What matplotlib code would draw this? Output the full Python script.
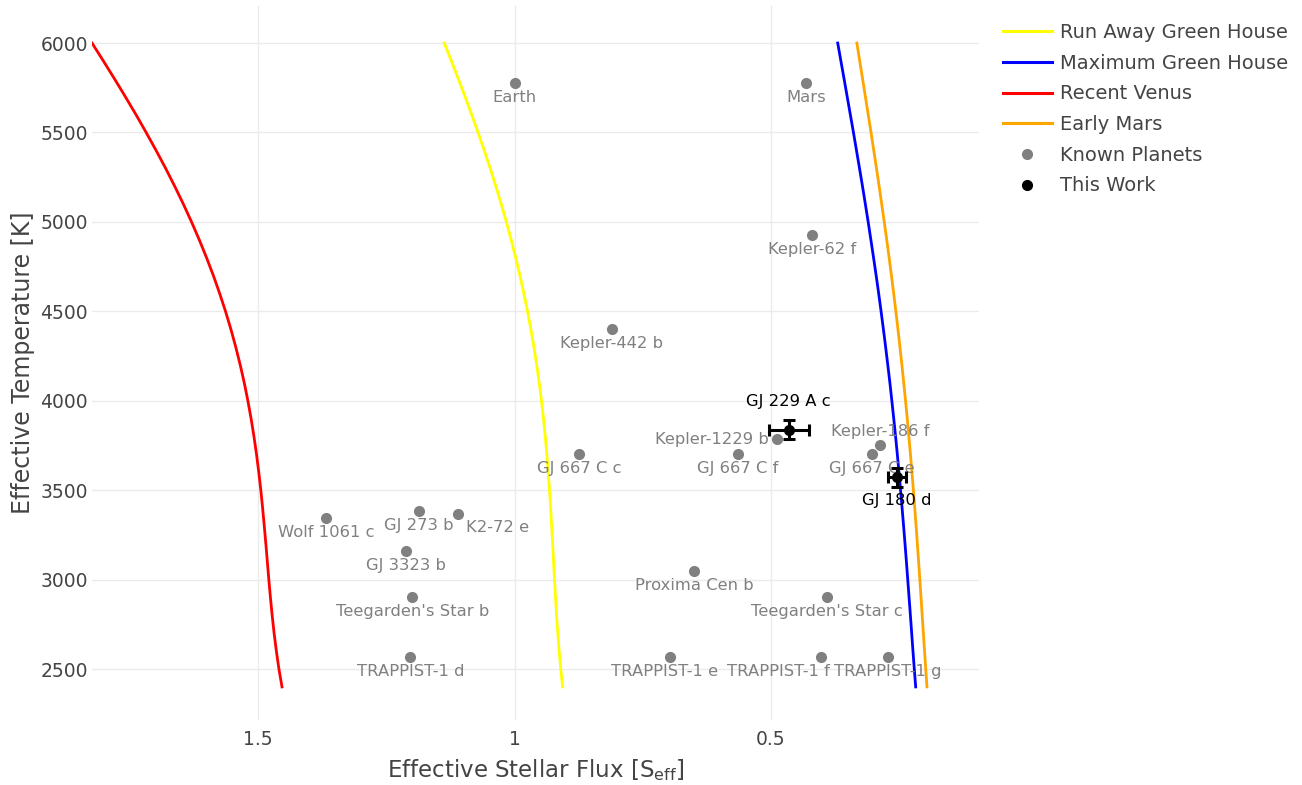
import matplotlib.pyplot as plt
from matplotlib.lines import Line2D

plt.rcParams['font.family'] = ['DejaVu Sans']
plt.rcParams['mathtext.default'] = 'regular'

# === HABITABLE ZONE BOUNDARIES (Teff [K] vs S_eff) ===
hz_teff = [2400, 2500, 2600, 2700, 2800, 2900, 3000, 3100, 3200, 3300, 3400, 3500,
           3600, 3700, 3800, 3900, 4000, 4100, 4200, 4300, 4400, 4500, 4600, 4700,
           4800, 4900, 5000, 5100, 5200, 5300, 5400, 5500, 5600, 5700, 5800, 5900, 6000]
recent_venus = [1.4535, 1.4595, 1.4645, 1.4689, 1.4727, 1.4761, 1.4792, 1.4821, 1.4850,
                1.4881, 1.4913, 1.4948, 1.4988, 1.5032, 1.5082, 1.5138, 1.5201, 1.5271,
                1.5350, 1.5437, 1.5532, 1.5637, 1.5751, 1.5874, 1.6007, 1.6149, 1.6300,
                1.6460, 1.6629, 1.6806, 1.6992, 1.7185, 1.7384, 1.7591, 1.7803, 1.8020, 1.8241]
runaway_gh = [0.9061, 0.9098, 0.9129, 0.9156, 0.9180, 0.9200, 0.9220, 0.9238, 0.9256,
              0.9275, 0.9295, 0.9317, 0.9342, 0.9369, 0.9400, 0.9435, 0.9474, 0.9518,
              0.9567, 0.9621, 0.9681, 0.9746, 0.9817, 0.9894, 0.9977, 1.0065, 1.0159,
              1.0259, 1.0365, 1.0475, 1.0591, 1.0711, 1.0836, 1.0964, 1.1097, 1.1232, 1.1370]
maximum_gh = [0.2175, 0.2202, 0.2228, 0.2253, 0.2278, 0.2304, 0.2330, 0.2356, 0.2383,
              0.2411, 0.2440, 0.2470, 0.2501, 0.2533, 0.2567, 0.2603, 0.2640, 0.2678,
              0.2719, 0.2761, 0.2805, 0.2850, 0.2897, 0.2946, 0.2997, 0.3049, 0.3102,
              0.3157, 0.3213, 0.3271, 0.3330, 0.3389, 0.3450, 0.3511, 0.3572, 0.3634, 0.3696]
early_mars = [0.1955, 0.1979, 0.2002, 0.2025, 0.2048, 0.2071, 0.2094, 0.2118, 0.2142,
              0.2167, 0.2193, 0.2220, 0.2248, 0.2277, 0.2308, 0.2339, 0.2373, 0.2408,
              0.2444, 0.2482, 0.2521, 0.2562, 0.2604, 0.2648, 0.2693, 0.2740, 0.2788,
              0.2838, 0.2888, 0.2940, 0.2993, 0.3046, 0.3101, 0.3156, 0.3211, 0.3267, 0.3322]

# === KNOWN PLANETS ===
known_names = ["Earth", "Mars", "Kepler-62 f", "Kepler-442 b", "Kepler-1229 b", "Kepler-186 f",
               "GJ 667 C c", "GJ 667 C f", "GJ 667 C e", "Wolf 1061 c", "GJ 273 b", "K2-72 e",
               "GJ 3323 b", "Teegarden's Star b", "Teegarden's Star c", "Proxima Cen b",
               "TRAPPIST-1 d", "TRAPPIST-1 e", "TRAPPIST-1 f", "TRAPPIST-1 g"]
known_seff = [1.00, 0.431, 0.419, 0.810, 0.488, 0.287,
              0.874, 0.565, 0.303, 1.368, 1.186, 1.111,
              1.211, 1.199, 0.390, 0.650,
              1.203, 0.697, 0.402, 0.272]
known_teff = [5778, 5778, 4925, 4402, 3784, 3755,
              3700, 3700, 3700, 3342, 3382, 3364,
              3159, 2904, 2904, 3050,
              2566, 2566, 2566, 2566]

# === THIS WORK ===
work_names = ["GJ 229 A c", "GJ 180 d"]
work_seff = [0.465, 0.254]
work_seff_err = [0.039, 0.018]
work_teff = [3839, 3571]
work_teff_err = [54, 53]

# label placement (like plotly textposition), default is below the point
label_pos = {"Kepler-1229 b": "left", "Kepler-186 f": "top", "K2-72 e": "bottom right",
             "TRAPPIST-1 f": "bottom left"}
label_dx = {"TRAPPIST-1 e": -4}
work_label_pos = {"GJ 229 A c": "top", "GJ 180 d": "bottom"}

fig = plt.figure(figsize=(13.02, 7.85), dpi=100)
ax = fig.add_axes([92 / 1302, 1 - 720 / 785, (979 - 92) / 1302, 714 / 785])

ax.plot(runaway_gh, hz_teff, color='#ffff00', lw=2, label='Run Away Green House')
ax.plot(maximum_gh, hz_teff, color='#0000ff', lw=2, label='Maximum Green House')
ax.plot(recent_venus, hz_teff, color='#ff0000', lw=2, label='Recent Venus')
ax.plot(early_mars, hz_teff, color='#ffa500', lw=2, label='Early Mars')

gray = '#808080'
lab_fs = 11.8
ax.plot(known_seff, known_teff, 'o', color=gray, ms=7, zorder=3)
for name, s, t in zip(known_names, known_seff, known_teff):
    pos = label_pos.get(name, "bottom")
    if pos == "left":
        ax.annotate(name, (s, t), xytext=(-6, 0), textcoords='offset points',
                    ha='right', va='center', color=gray, fontsize=lab_fs)
    elif pos == "top":
        ax.annotate(name, (s, t), xytext=(0, 4), textcoords='offset points',
                    ha='center', va='bottom', color=gray, fontsize=lab_fs)
    elif pos == "bottom right":
        ax.annotate(name, (s, t), xytext=(6, -4), textcoords='offset points',
                    ha='left', va='top', color=gray, fontsize=lab_fs)
    elif pos == "bottom left":
        ax.annotate(name, (s, t), xytext=(6.5, -5), textcoords='offset points',
                    ha='right', va='top', color=gray, fontsize=lab_fs)
    else:
        ax.annotate(name, (s, t), xytext=(label_dx.get(name, 0), -5), textcoords='offset points',
                    ha='center', va='top', color=gray, fontsize=lab_fs)

ax.errorbar(work_seff, work_teff, xerr=work_seff_err, yerr=work_teff_err, fmt='o',
            color='black', ms=7, elinewidth=2.2, capsize=4, capthick=2.2, zorder=4)
for name, s, t in zip(work_names, work_seff, work_teff):
    if work_label_pos[name] == "top":
        ax.annotate(name, (s, t), xytext=(0, 15), textcoords='offset points',
                    ha='center', va='bottom', color='black', fontsize=lab_fs)
    else:
        ax.annotate(name, (s, t), xytext=(0, -11), textcoords='offset points',
                    ha='center', va='top', color='black', fontsize=lab_fs)

ax.set_xlim(1.8241, 0.094)
ax.set_ylim(2215, 6207)
ax.set_xticks([1.5, 1, 0.5])
ax.set_xticklabels(['1.5', '1', '0.5'])
ax.set_yticks([2500, 3000, 3500, 4000, 4500, 5000, 5500, 6000])
ax.grid(True, color='#ebebeb', lw=1)
ax.set_axisbelow(True)
for sp in ax.spines.values():
    sp.set_visible(False)
ax.tick_params(length=0, labelsize=13.5, labelcolor='#444444')
ax.tick_params(axis='x', pad=7)
ax.tick_params(axis='y', pad=3)
ax.set_xlabel('Effective Stellar Flux [S$_{eff}$]', fontsize=16.5, color='#444444', labelpad=6)
ax.set_ylabel('Effective Temperature [K]', fontsize=17, color='#444444', labelpad=4)

handles = [
    Line2D([], [], color='#ffff00', lw=2.2),
    Line2D([], [], color='#0000ff', lw=2.2),
    Line2D([], [], color='#ff0000', lw=2.2),
    Line2D([], [], color='#ffa500', lw=2.2),
    Line2D([], [], ls='none', marker='o', color=gray, ms=7),
    Line2D([], [], ls='none', marker='o', color='black', ms=7),
]
labels = ['Run Away Green House', 'Maximum Green House', 'Recent Venus', 'Early Mars',
          'Known Planets', 'This Work']
leg = fig.legend(handles, labels, loc='upper left', bbox_to_anchor=(1003 / 1302, 1 - 23 / 785),
                 frameon=False, fontsize=14, handlelength=2.5, handletextpad=0.45,
                 labelspacing=0.6, borderpad=0, borderaxespad=0)
for txt in leg.get_texts():
    txt.set_color('#444444')

fig.savefig('out.png', dpi=100)
